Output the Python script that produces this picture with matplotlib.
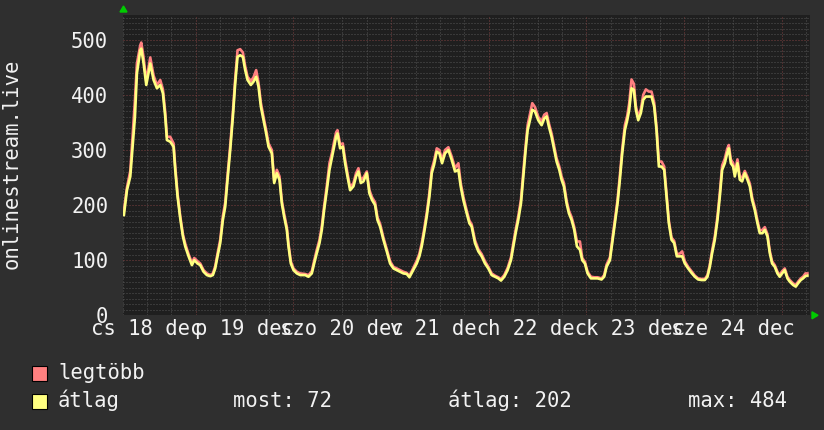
import matplotlib
matplotlib.use("Agg")
import matplotlib.pyplot as plt
from matplotlib.patches import Rectangle, Polygon

# ---------------- data (hours since 18 Dec 00:00) ----------------
hours = [6.3, 7.05, 7.87, 9.01, 9.5, 10.32, 10.57, 11.14, 11.8, 12.78, 13.6, 14.42, 15.24, 15.89,
         16.47, 16.88, 17.69, 18.51, 18.92, 19.5, 20.15, 20.81, 21.38, 22.2, 23.02, 23.59,
         24.41, 25.07, 25.89, 26.7, 27.52, 28.18, 28.75, 29.32, 29.98, 30.63, 31.21, 31.78,
         32.44, 33.09, 33.67, 34.24, 34.89, 35.55, 36.12, 36.7, 37.51, 38.17, 38.82, 39.4,
         39.97, 40.63, 41.28, 41.86, 42.67, 43.25, 43.9, 44.56, 45.13, 45.7, 46.36, 46.77,
         47.34, 48.0, 48.82, 49.64, 50.86, 51.68, 52.5, 53.08, 53.73, 54.39, 54.96, 55.53,
         56.19, 56.84, 57.5, 57.99, 58.48, 58.81, 59.46, 60.12, 60.69, 61.27, 61.92, 62.74,
         63.39, 63.97, 64.54, 65.2, 66.02, 66.67, 67.33, 68.06, 68.64, 69.29, 70.11, 70.93,
         71.75, 72.57, 73.39, 74.21, 75.02, 75.84, 76.5, 77.07, 77.64, 78.3, 78.96, 79.53,
         80.1, 80.76, 81.41, 81.99, 82.56, 83.22, 83.87, 84.53, 85.26, 86.08, 86.9, 87.72,
         88.54, 89.11, 89.77, 90.59, 91.24, 91.81, 92.63, 93.45, 94.27, 95.08, 95.9, 96.72,
         97.54, 98.36, 99.02, 99.83, 100.65, 101.47, 102.05, 102.62, 103.27, 103.93, 104.5,
         105.08, 105.57, 106.14, 106.71, 107.37, 108.19, 109.01, 109.66, 110.24, 110.81,
         111.46, 112.12, 112.69, 113.35, 113.92, 114.49, 115.15, 115.72, 116.38, 117.03,
         117.69, 118.43, 119.0, 119.65, 120.31, 121.13, 121.95, 122.77, 123.75, 124.4, 124.98,
         125.8, 126.37, 127.03, 127.68, 128.25, 128.83, 129.48, 130.06, 130.55, 131.12,
         131.69, 132.18, 132.76, 133.41, 133.99, 134.64, 135.38, 136.03, 136.69, 137.26,
         137.84, 138.49, 139.15, 139.72, 140.29, 140.95, 141.6, 142.26, 143.0, 143.57, 144.22,
         145.04, 145.86, 146.68, 147.5, 148.32, 149.14, 149.79, 150.37, 150.94, 151.59,
         152.25, 152.82, 153.4, 154.05, 154.63, 155.04, 155.53, 156.1, 156.51, 157.16, 157.74,
         158.31, 158.97, 159.62, 160.2, 160.77, 161.42, 162.08, 162.65, 163.31, 163.88,
         164.54, 165.11, 165.68, 166.34, 166.99, 167.56, 168.14, 168.79, 169.45, 170.02,
         170.84, 171.5, 172.07, 172.73, 173.3, 173.87, 174.36]

atlag = [182, 227, 252, 360, 439, 481, 484, 457, 418, 457, 427, 412, 418, 403,
         360, 318, 315, 306, 264, 215, 176, 143, 125, 107, 91, 100,
         94, 91, 79, 73, 71, 73, 85, 107, 131, 173, 197, 246,
         300, 360, 421, 469, 472, 469, 445, 427, 418, 424, 433, 415,
         379, 354, 330, 306, 294, 240, 258, 246, 203, 179, 155, 125,
         94, 82, 76, 73, 73, 70, 76, 94, 113, 131, 155, 191,
         227, 264, 288, 306, 324, 330, 303, 306, 276, 252, 227, 234,
         252, 261, 240, 243, 258, 221, 209, 200, 173, 161, 137, 116,
         94, 85, 82, 79, 76, 75, 69, 77, 85, 94, 107, 125,
         149, 179, 215, 258, 273, 297, 294, 276, 294, 300, 282, 261,
         264, 234, 209, 185, 167, 161, 131, 116, 107, 94, 85, 73,
         70, 67, 63, 70, 82, 100, 125, 149, 173, 203, 252,
         300, 336, 354, 373, 370, 354, 345, 357, 361, 342,
         324, 300, 279, 264, 246, 234, 203, 185, 173, 155,
         125, 119, 100, 94, 76, 67, 67, 67, 65, 70, 88,
         100, 131, 167, 203, 246, 294, 336, 354, 373, 412,
         409, 373, 354, 367, 391, 397, 397, 397, 379, 336,
         270, 270, 264, 215, 167, 137, 131, 107, 107, 107, 94,
         85, 77, 70, 65, 64, 64, 70, 88, 113, 137,
         173, 215, 264, 276, 294, 303, 276, 270, 252, 276, 246,
         243, 258, 246, 234, 209, 191, 167, 149, 149, 155,
         143, 113, 94, 88, 76, 70, 76, 82, 67, 61,
         55, 52, 58, 64, 67, 71, 72]

legtobb = [190, 232, 262, 390, 457, 490, 495, 468, 425, 468, 435, 418, 427, 410,
           368, 324, 324, 312, 270, 220, 180, 147, 130, 111, 95, 104,
           98, 94, 82, 76, 73, 76, 89, 112, 137, 180, 205, 254,
           308, 368, 430, 481, 483, 477, 452, 433, 425, 432, 445, 422,
           386, 360, 336, 312, 300, 244, 264, 252, 208, 184, 160, 130,
           98, 85, 79, 76, 75, 73, 80, 99, 119, 137, 162, 198,
           235, 276, 296, 315, 332, 336, 310, 312, 283, 258, 232, 240,
           258, 267, 246, 250, 261, 227, 214, 205, 178, 166, 141, 120,
           98, 88, 85, 82, 79, 77, 72, 80, 89, 99, 112, 131,
           155, 186, 222, 265, 280, 303, 300, 282, 300, 305, 288, 267,
           276, 240, 215, 190, 172, 165, 136, 120, 111, 98, 88, 76,
           72, 69, 66, 73, 86, 105, 131, 155, 180, 210, 260,
           308, 345, 365, 385, 378, 360, 352, 364, 367, 348,
           330, 306, 285, 270, 252, 240, 208, 190, 178, 160,
           134, 134, 104, 97, 79, 70, 69, 69, 67, 73, 92,
           105, 137, 174, 210, 254, 302, 345, 362, 385, 428,
           420, 380, 360, 374, 400, 410, 406, 406, 386, 342,
           279, 279, 270, 220, 172, 141, 135, 111, 112, 116, 98,
           88, 80, 72, 67, 66, 66, 73, 92, 118, 143,
           180, 222, 272, 284, 302, 309, 283, 276, 258, 283, 252,
           250, 262, 251, 239, 214, 196, 172, 154, 155, 160,
           147, 117, 98, 91, 79, 73, 80, 85, 70, 64,
           58, 55, 61, 67, 70, 76, 76]

x_label_pos = [12, 36, 60, 84, 108, 132, 156]
x_labels = ["cs 18 dec", "p 19 dec", "szo 20 dec", "v 21 dec", "h 22 dec", "k 23 dec", "sze 24 dec"]
y_ticks = [0, 100, 200, 300, 400, 500]
legend_names = ["legtöbb", "átlag"]
legend_colors = ["#ff8080", "#ffff80"]
stat_texts = ["most: 72", "átlag: 202", "max: 484"]

# ---------------- style ----------------
W, H = 824, 430
BACK = "#2f2f2f"
CANVAS = "#1f1f1f"
FONT = "DejaVu Sans Mono"
FS = 14.8
TXT = "#f2f2f2"
MINOR = "#545454"
MAJOR = "#7c4040"

fig = plt.figure(figsize=(W / 100, H / 100), dpi=100, facecolor=BACK)
L, R, T, B = 123.5, 810, 15, 315.3
ax = fig.add_axes([L / W, (H - B) / H, (R - L) / W, (B - T) / H])
ax.set_facecolor(CANVAS)
x0, x1 = 6.2, 175.0
y0, y1 = 0, 545
ax.set_xlim(x0, x1)
ax.set_ylim(y0, y1)

dot = (0, (1, 2))
lw = 0.72
# horizontal grid
for v in range(10, 545, 10):
    major = v % 100 == 0
    ax.axhline(v, color=MAJOR if major else MINOR, lw=lw, ls=dot, zorder=1 if major else 0.5)
# vertical grid
h = 6
while h <= x1:
    major = h % 24 == 0
    ax.axvline(h, color=MAJOR if major else MINOR, lw=lw, ls=dot, zorder=1 if major else 0.5)
    h += 6

ax.plot(hours, legtobb, color=legend_colors[0], lw=1.9, zorder=3)
ax.plot(hours, atlag, color=legend_colors[1], lw=1.9, zorder=4)

for s in ax.spines.values():
    s.set_visible(False)

ax.set_xticks(x_label_pos)
ax.set_xticklabels(x_labels, fontfamily=FONT, fontsize=FS, color=TXT)
ax.set_yticks(y_ticks)
ax.set_yticklabels([str(v) for v in y_ticks], fontfamily=FONT, fontsize=FS, color=TXT)
ax.tick_params(axis="x", length=0, pad=3)
ax.tick_params(axis="y", length=0, pad=11)

# green arrows
fig.patches.append(Polygon([[(L - 3.5) / W, (H - 12) / H], [(L + 3.5) / W, (H - 12) / H],
                            [L / W, (H - 6) / H]], closed=True, transform=fig.transFigure,
                           color="#00cc00", zorder=5))
fig.patches.append(Polygon([[(R + 2) / W, (H - B + 3.5) / H], [(R + 2) / W, (H - B - 3.5) / H],
                            [(R + 8) / W, (H - B) / H]], closed=True, transform=fig.transFigure,
                           color="#00cc00", zorder=5))

# y label
fig.text(12 / W, 1 - 164 / H, "onlinestream.live", rotation=90, ha="center", va="center",
         fontfamily=FONT, fontsize=FS, color=TXT)

# legend
rows_baseline = [379, 407]
for name, col, yb in zip(legend_names, legend_colors, rows_baseline):
    fig.patches.append(Rectangle((32 / W, (H - yb - 2) / H), 15 / W, 15 / H, transform=fig.transFigure,
                                 facecolor=col, edgecolor="black", lw=0.8))
    fig.text(58 / W, 1 - yb / H, name, ha="left", va="baseline", fontfamily=FONT, fontsize=FS, color=TXT)

for txt, xs in zip(stat_texts, [233, 448, 688]):
    fig.text(xs / W, 1 - rows_baseline[1] / H, txt, ha="left", va="baseline",
             fontfamily=FONT, fontsize=FS, color=TXT)

fig.savefig("out.png", dpi=100, facecolor=BACK)
